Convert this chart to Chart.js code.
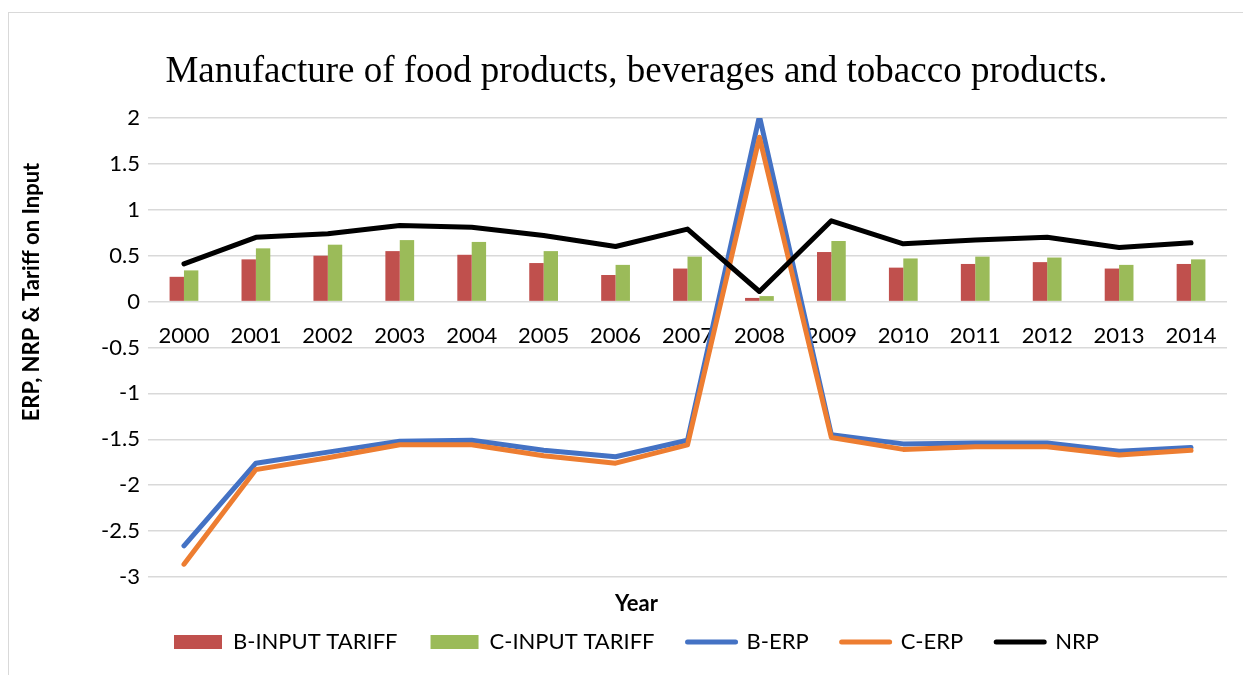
<!DOCTYPE html>
<html>
<head>
<meta charset="utf-8">
<title>Manufacture of food products, beverages and tobacco products.</title>
<script src="https://cdn.jsdelivr.net/npm/chart.js@4.4.1/dist/chart.umd.min.js"></script>
<style>
  html, body { margin: 0; padding: 0; background: #ffffff; overflow: hidden; }
  #wrap { position: relative; width: 1243px; height: 675px; }
  #frame { position: absolute; left: 8px; top: 12px; width: 1300px; height: 700px;
           border: 1px solid #d9d9d9; box-sizing: border-box; }
  #chart { position: absolute; left: 0; top: 0; }
</style>
</head>
<body>
<div id="wrap">
  <div id="frame"></div>
  <canvas id="chart" width="1243" height="675"></canvas>
</div>
<script>
// Years on the category axis
const years = ['2000', '2001', '2002', '2003', '2004', '2005', '2006', '2007',
               '2008', '2009', '2010', '2011', '2012', '2013', '2014'];

// Tariff on inputs (bars)
const bInputTariff = [0.27, 0.46, 0.50, 0.55, 0.51, 0.42, 0.29, 0.36, 0.04, 0.54, 0.37, 0.41, 0.43, 0.36, 0.41];
const cInputTariff = [0.34, 0.58, 0.62, 0.67, 0.65, 0.55, 0.40, 0.49, 0.06, 0.66, 0.47, 0.49, 0.48, 0.40, 0.46];

// Effective rate of protection (lines)
const bERP = [-2.66, -1.76, -1.64, -1.52, -1.51, -1.62, -1.69, -1.51, 2.02, -1.45, -1.55, -1.54, -1.54, -1.63, -1.59];
const cERP = [-2.86, -1.83, -1.70, -1.56, -1.56, -1.68, -1.76, -1.56, 1.79, -1.48, -1.61, -1.58, -1.58, -1.67, -1.62];

// Nominal rate of protection (line)
const nrp = [0.41, 0.70, 0.74, 0.83, 0.81, 0.72, 0.60, 0.79, 0.11, 0.88, 0.63, 0.67, 0.70, 0.59, 0.64];

// Series names
const seriesNames = ['B-INPUT TARIFF', 'C-INPUT TARIFF', 'B-ERP', 'C-ERP', 'NRP'];

const titleText = 'Manufacture of food products, beverages and tobacco products.';
const xTitleText = 'Year';
const yTitleText = 'ERP, NRP & Tariff on Input';

const SANS = 'Lato, "Liberation Sans", sans-serif';
const SERIF = '"Liberation Serif", "Times New Roman", serif';

// Rotated y-axis title at the far left of the frame
const yAxisTitle = {
  id: 'yAxisTitle',
  afterDraw(chart) {
    const {ctx, chartArea} = chart;
    ctx.save();
    ctx.fillStyle = '#000';
    ctx.font = 'bold 22px ' + SANS;
    ctx.textAlign = 'center';
    ctx.textBaseline = 'middle';
    ctx.translate(chartArea.left - 116, chartArea.top + 174);
    ctx.rotate(-Math.PI / 2);
    ctx.fillText(yTitleText, 0, 0);
    ctx.restore();
  }
};

const lineCommon = {
  type: 'line',
  borderWidth: 5,
  pointRadius: 0,
  pointHoverRadius: 0,
  pointStyle: 'line',
  tension: 0,
  fill: false,
  borderCapStyle: 'round',
  borderJoinStyle: 'round'
};

const chart = new Chart(document.getElementById('chart'), {
  data: {
    labels: years,
    datasets: [
      { type: 'bar', label: seriesNames[0], data: bInputTariff, backgroundColor: '#C0504D',
        pointStyle: 'rect', order: 4 },
      { type: 'bar', label: seriesNames[1], data: cInputTariff, backgroundColor: '#9BBB59',
        pointStyle: 'rect', order: 5 },
      Object.assign({}, lineCommon, { label: seriesNames[2], data: bERP, borderColor: '#4472C4',
        backgroundColor: '#4472C4', order: 3 }),
      Object.assign({}, lineCommon, { label: seriesNames[3], data: cERP, borderColor: '#ED7D31',
        backgroundColor: '#ED7D31', order: 2 }),
      Object.assign({}, lineCommon, { label: seriesNames[4], data: nrp, borderColor: '#000000',
        backgroundColor: '#000000', order: 1 })
    ]
  },
  options: {
    responsive: false,
    animation: false,
    devicePixelRatio: 1,
    layout: { padding: { left: 46, right: 16, top: 10, bottom: 12 } },
    datasets: {
      bar: { barPercentage: 1.0, categoryPercentage: 0.4, borderWidth: 0 }
    },
    scales: {
      x: {
        type: 'category',
        position: { y: 0 },
        offset: true,
        grid: { display: false },
        border: { display: false },
        ticks: {
          color: '#000',
          font: { family: SANS, size: 22 },
          padding: 13,
          maxRotation: 0,
          autoSkip: false
        }
      },
      y: {
        min: -3,
        max: 2,
        grid: { color: '#d9d9d9', lineWidth: 1.5, drawTicks: false },
        border: { display: false },
        ticks: {
          stepSize: 0.5,
          color: '#000',
          font: { family: SANS, size: 22 },
          padding: 8,
          callback: (v) => String(Math.round(v * 10) / 10)
        },
        afterFit(scale) { scale.width = 102; }
      }
    },
    plugins: {
      title: {
        display: true,
        text: titleText,
        color: '#000',
        font: { family: SERIF, size: 37, weight: 'normal' },
        padding: { top: 40, bottom: 23.6 }
      },
      // x-axis title, sitting between the plot and the legend
      subtitle: {
        display: true,
        position: 'bottom',
        text: xTitleText,
        color: '#000',
        font: { family: SANS, size: 22, weight: 'bold' },
        padding: { top: 13.8, bottom: -19.2 }
      },
      legend: {
        position: 'bottom',
        weight: 2000,
        labels: {
          color: '#000',
          font: { family: SANS, size: 22 },
          usePointStyle: true,
          pointStyleWidth: 48,
          boxHeight: 14,
          padding: 33,
          generateLabels(chart) {
            return chart.data.datasets.map((ds, i) => ({
              text: ds.label,
              fillStyle: ds.type === 'bar' ? ds.backgroundColor : ds.borderColor,
              strokeStyle: ds.type === 'bar' ? ds.backgroundColor : ds.borderColor,
              lineWidth: ds.type === 'bar' ? 0 : 5,
              lineCap: 'round',
              pointStyle: ds.type === 'bar' ? 'rect' : 'line',
              hidden: !chart.isDatasetVisible(i),
              datasetIndex: i,
              fontColor: '#000'
            }));
          }
        }
      },
      tooltip: { enabled: false }
    }
  },
  plugins: [yAxisTitle]
});
</script>
</body>
</html>
